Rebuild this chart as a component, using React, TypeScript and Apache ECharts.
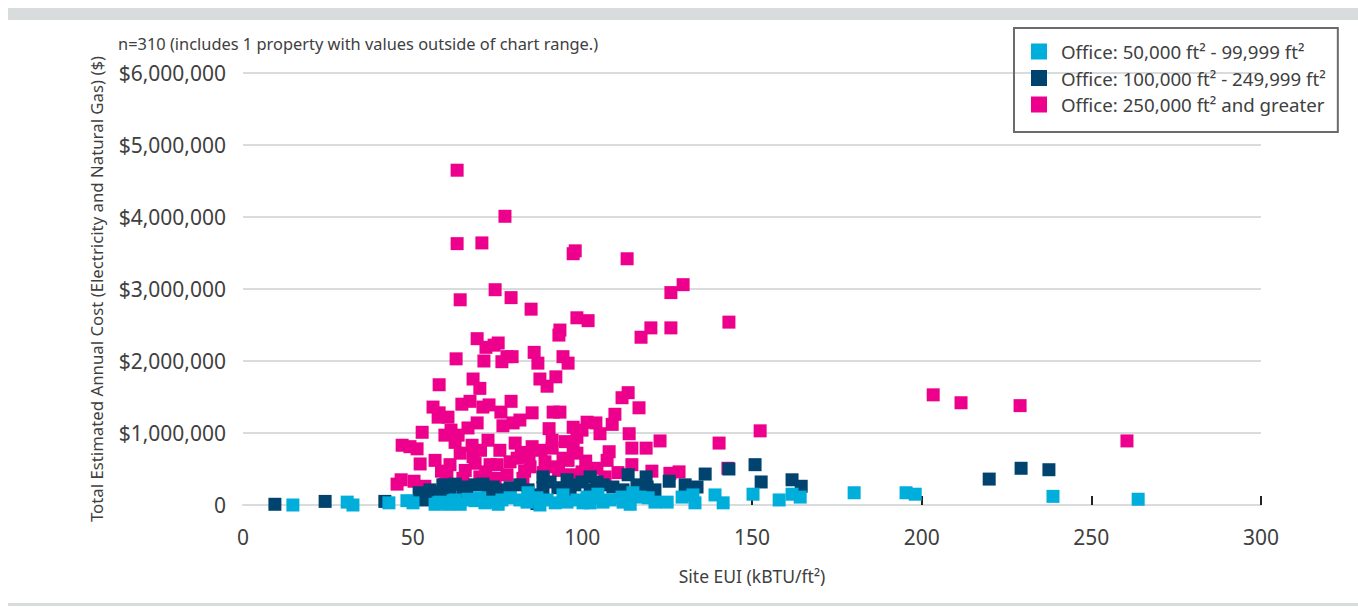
import React, { useEffect, useRef } from "react";
import * as echarts from "echarts";

const seriesNames = [
  "Office: 50,000 ft² - 99,999 ft²",
  "Office: 100,000 ft² - 249,999 ft²",
  "Office: 250,000 ft² and greater",
];
const seriesColors = ["#00AEDB", "#00436F", "#EC008C"];

const xTicks = [0, 50, 100, 150, 200, 250, 300];
const xTickMarks = [50, 100, 150, 200, 250, 300];
const yMax = 6000000;
const yStep = 1000000;

// [Site EUI, Total estimated annual cost $]
const smallOffices: [number, number][] = [
  [14.7, 0], [30.7, 40000], [32.4, 0], [43.0, 30000], [48.3, 60000], [50.1, 30000],
  [57.5, 30000], [60.4, 10000], [61.9, 60000], [66.3, 80000], [68.4, 60000], [58.1, 40000],
  [62.5, 70000], [66.9, 70000], [69.8, 100000], [73.7, 40000], [76.3, 70000], [78.7, 100000],
  [83.7, 40000], [84.0, 170000], [89.6, 70000], [94.3, 140000], [95.5, 40000], [98.4, 70000],
  [101.4, 110000], [104.3, 100000], [106.1, 40000], [111.7, 110000], [112.0, 40000], [114.9, 170000],
  [117.0, 110000], [119.4, 100000], [125.0, 40000], [129.4, 110000], [132.6, 140000], [133.2, 30000],
  [139.1, 140000], [141.5, 30000], [150.3, 150000], [158.0, 70000], [161.8, 150000], [164.2, 110000],
  [180.1, 170000], [195.4, 170000], [198.1, 150000], [238.7, 120000], [263.8, 80000],
  [64.0, 10000], [71.3, 30000], [81.6, 70000], [86.6, 100000], [92.0, 30000], [100.2, 30000],
  [108.2, 70000], [121.4, 40000], [56.6, 10000], [75.2, 10000], [87.5, 0], [102.3, 30000],
  [114.1, 10000], [104.6, 150000],
];

const mediumOffices: [number, number][] = [
  [9.4, 10000], [24.2, 50000], [41.8, 50000], [51.9, 170000], [53.1, 70000], [58.9, 280000],
  [62.5, 290000], [66.0, 250000], [68.4, 280000], [56.6, 180000], [64.8, 180000], [70.7, 290000],
  [73.7, 250000], [76.3, 210000], [81.6, 280000], [84.0, 210000], [86.6, 20000], [88.4, 390000],
  [90.5, 320000], [88.4, 240000], [95.5, 350000], [97.8, 280000], [99.9, 320000], [102.3, 390000],
  [104.3, 320000], [106.1, 280000], [109.0, 250000], [112.0, 210000], [113.5, 420000], [116.1, 280000],
  [118.8, 390000], [119.1, 250000], [125.6, 330000], [130.3, 280000], [133.8, 250000], [136.2, 430000],
  [143.2, 500000], [150.9, 560000], [152.7, 320000], [161.8, 350000], [164.5, 260000], [219.9, 360000],
  [229.3, 510000], [237.5, 490000], [55.1, 210000], [61.0, 210000], [72.2, 180000], [78.7, 240000],
  [92.8, 240000], [96.4, 210000], [102.3, 210000], [121.4, 210000], [58.1, 130000], [75.7, 130000],
  [86.1, 140000],
];

const largeOffices: [number, number][] = [
  [63.1, 4650000], [77.2, 4010000], [63.1, 3630000], [70.4, 3640000], [97.3, 3490000], [97.9, 3530000],
  [113.2, 3420000], [129.7, 3060000], [126.1, 2950000], [74.3, 2990000], [64.0, 2850000], [79.0, 2880000],
  [84.9, 2720000], [98.4, 2600000], [101.7, 2560000], [143.2, 2540000], [126.1, 2460000], [120.2, 2460000],
  [93.4, 2430000], [93.1, 2360000], [117.3, 2330000], [69.0, 2310000], [74.0, 2220000], [71.6, 2190000],
  [75.2, 2250000], [85.8, 2120000], [94.3, 2060000], [62.8, 2030000], [95.8, 1970000], [86.9, 1970000],
  [77.8, 2060000], [79.3, 2060000], [76.3, 1990000], [71.0, 2000000], [92.2, 1780000], [67.8, 1750000],
  [87.5, 1750000], [89.6, 1650000], [57.8, 1670000], [69.8, 1620000], [203.4, 1530000], [211.6, 1420000],
  [229.0, 1380000], [113.5, 1560000], [111.7, 1490000], [79.0, 1440000], [66.9, 1440000], [64.5, 1400000],
  [72.5, 1390000], [56.0, 1360000], [116.7, 1350000], [70.7, 1360000], [91.4, 1290000], [93.4, 1290000],
  [85.2, 1280000], [76.0, 1290000], [109.6, 1260000], [57.8, 1280000], [60.4, 1220000], [57.5, 1220000],
  [69.0, 1140000], [101.4, 1150000], [108.8, 1120000], [79.6, 1140000], [81.6, 1180000], [152.4, 1030000],
  [66.3, 1070000], [90.2, 1060000], [99.9, 1040000], [52.8, 1010000], [98.4, 940000], [105.2, 990000],
  [122.9, 890000], [140.3, 860000], [260.5, 890000], [59.5, 970000], [62.5, 870000], [72.2, 900000],
  [67.5, 830000], [46.9, 830000], [49.2, 810000], [51.3, 780000], [114.6, 790000], [118.8, 790000],
  [80.2, 860000], [85.2, 810000], [91.1, 900000], [91.1, 790000], [97.3, 790000], [98.4, 720000],
  [95.8, 620000], [107.3, 620000], [114.6, 560000], [120.5, 470000], [125.8, 440000], [128.5, 460000],
  [142.9, 510000], [56.6, 620000], [61.0, 560000], [52.2, 570000], [67.8, 670000], [68.4, 580000],
  [72.8, 560000], [74.9, 560000], [78.7, 600000], [80.8, 650000], [84.6, 530000], [89.0, 600000],
  [91.4, 530000], [94.3, 650000], [96.4, 420000], [99.9, 460000], [102.3, 490000], [104.3, 510000],
  [106.7, 390000], [60.1, 390000], [64.8, 370000], [69.8, 390000], [74.3, 370000], [77.8, 420000],
  [82.5, 370000], [45.4, 290000], [46.6, 350000], [50.4, 330000], [53.6, 260000], [59.5, 290000],
  [107.9, 740000], [84.3, 670000], [87.8, 760000], [75.7, 760000], [113.8, 990000], [104.0, 1140000],
  [76.6, 1100000], [97.3, 1080000], [61.3, 1040000], [63.4, 970000],
  [58.5, 470000], [65.5, 480000], [71.5, 460000], [83.0, 470000], [88.5, 450000], [93.0, 480000],
  [101.0, 610000], [110.5, 450000], [64.0, 720000], [70.0, 760000], [82.0, 730000], [95.0, 880000],
];

const annotation = "n=310 (includes 1 property with values outside of chart range.)";
const xName = "Site EUI (kBTU/ft²)";
const yName = "Total Estimated Annual Cost (Electricity and Natural Gas) ($)";

const FONT = "'Noto Sans', 'Open Sans', sans-serif";
const TEXT = "#404040";
const GRID = "#D9DCDC";

export default function App() {
  const ref = useRef<HTMLDivElement>(null);
  useEffect(() => {
    document.body.style.margin = "0";
    const chart = echarts.init(ref.current!, null, { renderer: "svg" });
    const mk = (name: string, color: string, data: [number, number][]) => ({
      name,
      type: "scatter",
      symbol: "rect",
      symbolSize: 13,
      itemStyle: { color, opacity: 1 },
      emphasis: { disabled: true },
      data,
    });
    chart.setOption({
      animation: false,
      textStyle: { fontFamily: FONT },
      grid: { left: 243, right: 97, top: 73, bottom: 104, containLabel: false },
      legend: {
        orient: "vertical",
        left: 1014,
        top: 28,
        padding: [14, 12, 18, 17],
        borderColor: "#6B6B6B",
        borderWidth: 2,
        itemWidth: 16,
        itemHeight: 16,
        itemGap: 7.5,
        icon: "rect",
        data: seriesNames,
        itemStyle: { opacity: 1 },
        textStyle: { fontSize: 18.7, color: TEXT, fontFamily: FONT, lineHeight: 17, padding: [0, 0, 0, 9] },
      },
      xAxis: {
        type: "value",
        min: xTicks[0],
        max: xTicks[xTicks.length - 1],
        interval: xTicks[1] - xTicks[0],
        name: xName,
        nameLocation: "middle",
        nameGap: 62,
        nameTextStyle: { fontSize: 17.5, color: TEXT, fontFamily: FONT },
        axisLine: { show: true, lineStyle: { color: GRID, width: 2 } },
        axisTick: {
          show: true,
          inside: true,
          length: 9,
          customValues: xTickMarks,
          lineStyle: { color: "#222", width: 2 },
        },
        axisLabel: { fontSize: 21, color: TEXT, margin: 21, fontFamily: FONT },
        splitLine: { show: false },
      },
      yAxis: {
        type: "value",
        min: 0,
        max: yMax,
        interval: yStep,
        name: yName,
        nameLocation: "middle",
        nameGap: 138,
        nameTextStyle: { fontSize: 16.8, color: TEXT, fontFamily: FONT },
        axisLine: { show: false },
        axisTick: { show: false },
        axisLabel: {
          fontSize: 21,
          color: TEXT,
          margin: 17,
          fontFamily: FONT,
          formatter: (v: number) => (v === 0 ? "0" : "$" + v.toLocaleString("en-US")),
        },
        splitLine: { show: true, lineStyle: { color: GRID, width: 2 } },
      },
      graphic: [
        { type: "rect", left: 8, top: 8, shape: { width: 1350, height: 12 }, style: { fill: GRID }, silent: true },
        { type: "rect", left: 8, top: 603, shape: { width: 1350, height: 3 }, style: { fill: GRID }, silent: true },
        {
          type: "text",
          left: 118,
          top: 35,
          style: { text: annotation, fontSize: 16.4, fill: TEXT, fontFamily: FONT },
        },
      ],
      series: [
        mk(seriesNames[2], seriesColors[2], largeOffices),
        mk(seriesNames[1], seriesColors[1], mediumOffices),
        mk(seriesNames[0], seriesColors[0], smallOffices),
      ],
    });
    return () => chart.dispose();
  }, []);
  return <div ref={ref} style={{ width: 1358, height: 609 }} />;
}
